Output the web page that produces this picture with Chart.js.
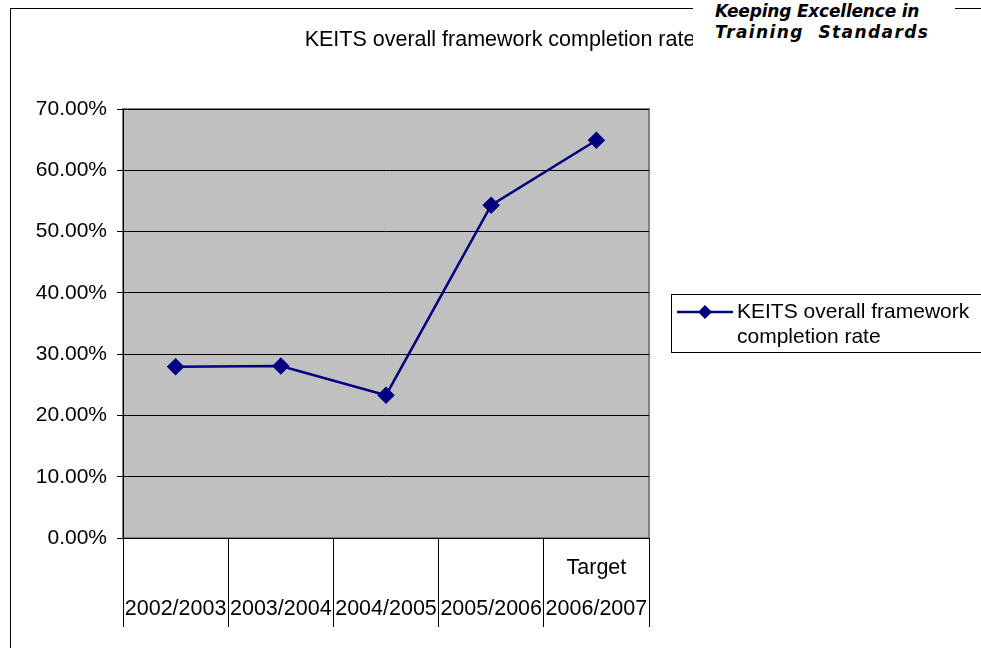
<!DOCTYPE html>
<html>
<head>
<meta charset="utf-8">
<script src="https://cdn.jsdelivr.net/npm/chart.js@4/dist/chart.umd.min.js"></script>
<style>
  html, body { margin: 0; padding: 0; background: #fff; overflow: hidden; }
  #wrap { position: relative; width: 981px; height: 648px; }
  #frame {
    position: absolute; left: 10px; top: 8px; width: 1000px; height: 700px;
    border-left: 1px solid #000; border-top: 1px solid #000; pointer-events: none;
  }
  #logo {
    position: absolute; left: 693px; top: 0; width: 262px; height: 46px;
    background: #fff; font-family: "DejaVu Sans", sans-serif; font-weight: bold; font-style: italic;
    color: #000; font-size: 17px; line-height: 21px; padding: 1px 0 0 22px; box-sizing: border-box;
    white-space: nowrap; letter-spacing: -0.2px;
  }
  #logo .l2 { letter-spacing: 1.4px; }
</style>
</head>
<body>
<div id="wrap">
  <canvas id="chart" width="981" height="648"></canvas>
  <div id="frame"></div>
  <div id="logo"><div>Keeping Excellence in</div><div class="l2">Training&nbsp; Standards</div></div>
</div>
<script>
// ── DATA ─────────────────────────────────────────────
const years      = ['2002/2003', '2003/2004', '2004/2005', '2005/2006', '2006/2007'];
const topLabels  = ['', '', '', '', 'Target'];
const completion = [27.95, 28.05, 23.3, 54.3, 64.9];
const yTicks     = [0, 10, 20, 30, 40, 50, 60, 70];
const seriesName = 'KEITS overall framework completion rate';
const chartTitle = 'KEITS overall framework completion rate';

const FONT = '"Liberation Sans", Arial, sans-serif';

// grey plot background + title + legend box
const decor = {
    id: 'decor',
    beforeDraw(chart) {
        const { ctx, chartArea: a } = chart;
        ctx.save();
        ctx.fillStyle = '#C0C0C0';
        ctx.fillRect(a.left, a.top, a.right - a.left, a.bottom - a.top);
        ctx.strokeStyle = '#808080';
        ctx.lineWidth = 2;
        ctx.strokeRect(a.left, a.top, a.right - a.left, a.bottom - a.top);

        ctx.fillStyle = '#000';
        ctx.font = '21.5px ' + FONT;
        ctx.textAlign = 'center';
        ctx.textBaseline = 'middle';
        ctx.fillText(chartTitle, 500, 40);
        ctx.restore();
    },
    afterDraw(chart) {
        const { ctx } = chart;
        const ds = chart.data.datasets[0];
        ctx.save();
        ctx.strokeStyle = '#000';
        ctx.lineWidth = 1;
        ctx.strokeRect(671.5, 294.5, 340, 58);

        ctx.strokeStyle = ds.borderColor;
        ctx.lineWidth = 2.5;
        ctx.beginPath();
        ctx.moveTo(677, 312);
        ctx.lineTo(733, 312);
        ctx.stroke();
        ctx.fillStyle = ds.pointBackgroundColor;
        ctx.beginPath();
        ctx.moveTo(705, 305); ctx.lineTo(712, 312); ctx.lineTo(705, 319); ctx.lineTo(698, 312);
        ctx.closePath();
        ctx.fill();

        ctx.fillStyle = '#000';
        ctx.font = '21px ' + FONT;
        ctx.textAlign = 'left';
        ctx.textBaseline = 'middle';
        const words = ds.label.split(' ');
        ctx.fillText(words.slice(0, 3).join(' '), 737, 312);
        ctx.fillText(words.slice(3).join(' '), 737, 337);
        ctx.restore();
    }
};

new Chart(document.getElementById('chart'), {
    type: 'line',
    data: {
        labels: years.map((y, i) => [topLabels[i], y]),
        datasets: [{
            label: seriesName,
            data: completion,
            borderColor: '#000080',
            backgroundColor: '#000080',
            pointBackgroundColor: '#000080',
            pointBorderColor: '#000080',
            pointStyle: 'rectRot',
            pointRadius: 7,
            borderWidth: 2.5,
            tension: 0
        }]
    },
    options: {
        responsive: false,
        animation: false,
        devicePixelRatio: 1,
        layout: { padding: { left: 10, top: 109, right: 332, bottom: 0 } },
        plugins: {
            legend: { display: false },
            title: { display: false },
            tooltip: { enabled: false }
        },
        scales: {
            x: {
                offset: true,
                grid: {
                    offset: true,
                    drawOnChartArea: false,
                    drawTicks: true,
                    tickLength: 89,
                    color: '#000'
                },
                border: { color: '#000', width: 1 },
                ticks: {
                    color: '#000',
                    font: { family: FONT, size: 21.5, lineHeight: 1.9 },
                    padding: -79,
                    maxRotation: 0,
                    autoSkip: false
                },
                afterFit(s) { s.height = 110; }
            },
            y: {
                min: 0,
                max: 70,
                afterBuildTicks(s) { s.ticks = yTicks.map(v => ({ value: v })); },
                grid: { color: '#000', tickLength: 6 },
                border: { color: '#000', width: 1 },
                ticks: {
                    color: '#000',
                    padding: 10,
                    font: { family: FONT, size: 21 },
                    callback: v => v.toFixed(2) + '%'
                },
                afterFit(s) { s.width = 113; }
            }
        }
    },
    plugins: [decor]
});
</script>
</body>
</html>
